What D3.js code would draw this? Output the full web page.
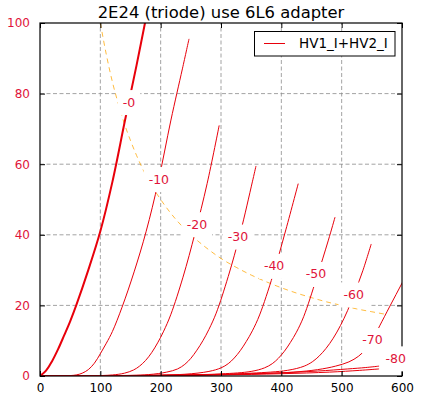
<!DOCTYPE html>
<html><head><meta charset="utf-8">
<script src="https://cdn.jsdelivr.net/npm/d3@7"></script>
<style>body{margin:0;background:#fff} svg{display:block;font-family:"DejaVu Sans",sans-serif}</style>
</head><body><svg id="c" width="422" height="398"></svg>
<script>
const titleText = "2E24 (triode) use 6L6 adapter";
const legendText = "HV1_I+HV2_I";
const xTicks = [0, 100, 200, 300, 400, 500, 600];
const yTicks = [0, 20, 40, 60, 80, 100];
const gridLabels = ["-0", "-10", "-20", "-30", "-40", "-50", "-60", "-70", "-80"];

// plate voltage (V), plate current (mA) pairs
const curve0  = [[0,0],[10,1.5],[20,4.2],[30,7.6],[40,11.5],[50,15.5],[60,20],[80,30],[100,41],[120,55],[141,72.5],[160,88],[174,100],[190,114]];
const curve10 = [[0,0],[40,0.05],[60,0.3],[70,0.8],[80,1.8],[90,3.6],[100,6.3],[110,9.3],[120,12.6],[136,19.5],[156,29.5],[176,41],[196,55],[217,72.5],[236,87],[247,95.5]];
const curve20 = [[0,0],[80,0.05],[120,0.3],[140,0.8],[155,1.7],[165,2.8],[175,4.4],[185,6.6],[195,9.4],[205,12.7],[217,17.5],[237,28],[257,40.5],[277,54.5],[297,71]];
const curve30 = [[0,0],[120,0.1],[180,0.4],[210,1.1],[228,2],[240,3.3],[250,5],[260,7.3],[270,10],[280,13.2],[292,17.8],[312,28.2],[332,40.5],[352,55],[358,59.5]];
const curve40 = [[0,0],[150,0.15],[240,0.5],[280,1.3],[300,2.3],[312,3.5],[322,5.1],[332,7.2],[342,9.8],[352,12.8],[364,17.3],[386,28.5],[406,40.5],[428,54.5]];
const curve50 = [[0,0],[200,0.2],[300,0.6],[350,1.3],[372,2.3],[385,3.5],[395,5],[405,7],[415,9.5],[425,12.4],[437,16.8],[458,27.5],[478,38.5],[489,45]];
const curve60 = [[0,0],[250,0.3],[350,0.8],[410,1.6],[438,2.8],[452,4.1],[463,5.7],[474,7.8],[486,10.7],[498,14.3],[510,18.6],[522,23.8],[535,29.8],[549,37.4]];
const curve70 = [[0,0],[250,0.25],[350,0.6],[420,1.1],[460,1.8],[490,2.8],[512,4],[528,5.6],[540,7.6],[551,10.2],[563,14.2],[580,19.8],[600,26.3],[615,31.3]];
const curve80 = [[0,0],[200,0.15],[300,0.4],[400,0.9],[460,1.4],[510,2],[540,2.4],[562,2.8]];
const curve90 = [[0,0],[200,0.1],[300,0.3],[400,0.65],[480,1.1],[530,1.6],[562,2.0]];
const curves = [curve0, curve10, curve20, curve30, curve40, curve50, curve60, curve70, curve80, curve90];

// inline label anchor points (data units)
const labelV = [147.5, 197, 260, 328, 388, 457.5, 520, 551, 589.5];
const labelI = [77.6, 55.8, 43, 39.5, 31.2, 28.9, 23.1, 10.2, 5.0];

// max dissipation line
const limitV = [100,110,120,130,140,150,160,175,200,225,250,275,300,325,350,375,400,425,450,475,500,525,550,575];
const limitI = [100,91,83.3,77,71.4,66.7,62.5,57,50,44.4,40,36.4,33.3,30.8,28.6,26.7,25,23.5,22.2,21,20,19,18.2,17.4];

const lineColor = "#e8000b";
const textRed = "#e0143a";

const svg = d3.select("#c");
const x = d3.scaleLinear().domain([0, 600]).range([40, 402]);
const y = d3.scaleLinear().domain([0, 100]).range([376, 23]);

svg.append("defs").append("clipPath").attr("id", "clip")
  .append("rect").attr("x", 40).attr("y", 23).attr("width", 362).attr("height", 353);

// grid
const grid = svg.append("g").attr("stroke", "#8c8c8c").attr("stroke-width", 0.8).attr("stroke-dasharray", "4,2.5");
grid.selectAll(".gx").data(xTicks.slice(1, -1)).join("line")
  .attr("x1", d => x(d)).attr("x2", d => x(d)).attr("y1", y(0)).attr("y2", y(100));
grid.selectAll(".gy").data(yTicks.slice(1, -1)).join("line")
  .attr("y1", d => y(d)).attr("y2", d => y(d)).attr("x1", x(0)).attr("x2", x(600));

const plot = svg.append("g").attr("clip-path", "url(#clip)");

// dissipation limit
const limitPts = limitV.map((v, i) => [v, limitI[i]]);
plot.append("path").datum(limitPts)
  .attr("fill", "none").attr("stroke", "orange").attr("stroke-opacity", 0.75)
  .attr("stroke-width", 1).attr("stroke-dasharray", "5,4")
  .attr("d", d3.line().x(d => x(d[0])).y(d => y(d[1])).curve(d3.curveMonotoneX));

const line = d3.line().x(d => x(d[0])).y(d => y(Math.max(0, d[1]))).curve(d3.curveCatmullRom.alpha(0.5));
plot.selectAll(".curve").data(curves).join("path")
  .attr("fill", "none").attr("stroke", lineColor)
  .attr("stroke-width", (d, i) => i === 0 ? 2 : 1)
  .attr("d", line);

// spines
svg.append("rect").attr("x", 40).attr("y", 23).attr("width", 362).attr("height", 353)
  .attr("fill", "none").attr("stroke", "#000").attr("stroke-width", 1.2);

// axes with inward ticks
const axB = svg.append("g").attr("transform", `translate(0,${y(0)})`)
  .call(d3.axisBottom(x).tickValues(xTicks).tickSize(-5).tickSizeOuter(0).tickPadding(7.5));
const axL = svg.append("g").attr("transform", `translate(${x(0)},0)`)
  .call(d3.axisLeft(y).tickValues(yTicks).tickSize(-5).tickSizeOuter(0).tickPadding(10));
const axT = svg.append("g").attr("transform", `translate(0,${y(100)})`)
  .call(d3.axisTop(x).tickValues(xTicks).tickSize(-5).tickSizeOuter(0).tickFormat(""));
const axR = svg.append("g").attr("transform", `translate(${x(600)},0)`)
  .call(d3.axisRight(y).tickValues(yTicks).tickSize(-5).tickSizeOuter(0).tickFormat(""));
[axB, axL, axT, axR].forEach(a => {
  a.select(".domain").remove();
  a.selectAll("line").attr("stroke", "#000").attr("stroke-width", 1);
  a.selectAll("text").attr("font-family", "DejaVu Sans").attr("font-size", 12);
});
axB.selectAll("text").attr("fill", "#000");
axL.selectAll("text").attr("fill", textRed);

// inline labels
const lab = svg.append("g");
gridLabels.forEach((t, i) => {
  const g = lab.append("g").attr("transform", `translate(${x(labelV[i])},${y(labelI[i])})`);
  const r = g.append("rect").attr("fill", "#fff");
  const tx = g.append("text").text(t).attr("text-anchor", "middle").attr("dy", "0.36em")
    .attr("font-size", 12.5).attr("fill", textRed);
  const w = tx.node().getComputedTextLength();
  r.attr("x", -w / 2 - 5).attr("y", -12).attr("width", w + 10).attr("height", 25);
});

// legend
const lg = svg.append("g");
lg.append("rect").attr("x", 254.5).attr("y", 31.5).attr("width", 140.5).attr("height", 24.5)
  .attr("fill", "#fff").attr("stroke", "#000").attr("stroke-width", 1);
lg.append("line").attr("x1", 264).attr("x2", 285).attr("y1", 43.5).attr("y2", 43.5)
  .attr("stroke", lineColor).attr("stroke-width", 1);
lg.append("text").attr("x", 299).attr("y", 48.4).attr("font-size", 13.5).attr("fill", "#000").text(legendText);

// title
svg.append("text").attr("x", 221).attr("y", 17.5).attr("text-anchor", "middle")
  .attr("font-size", 16.4).attr("fill", "#000").text(titleText);
</script></body></html>
